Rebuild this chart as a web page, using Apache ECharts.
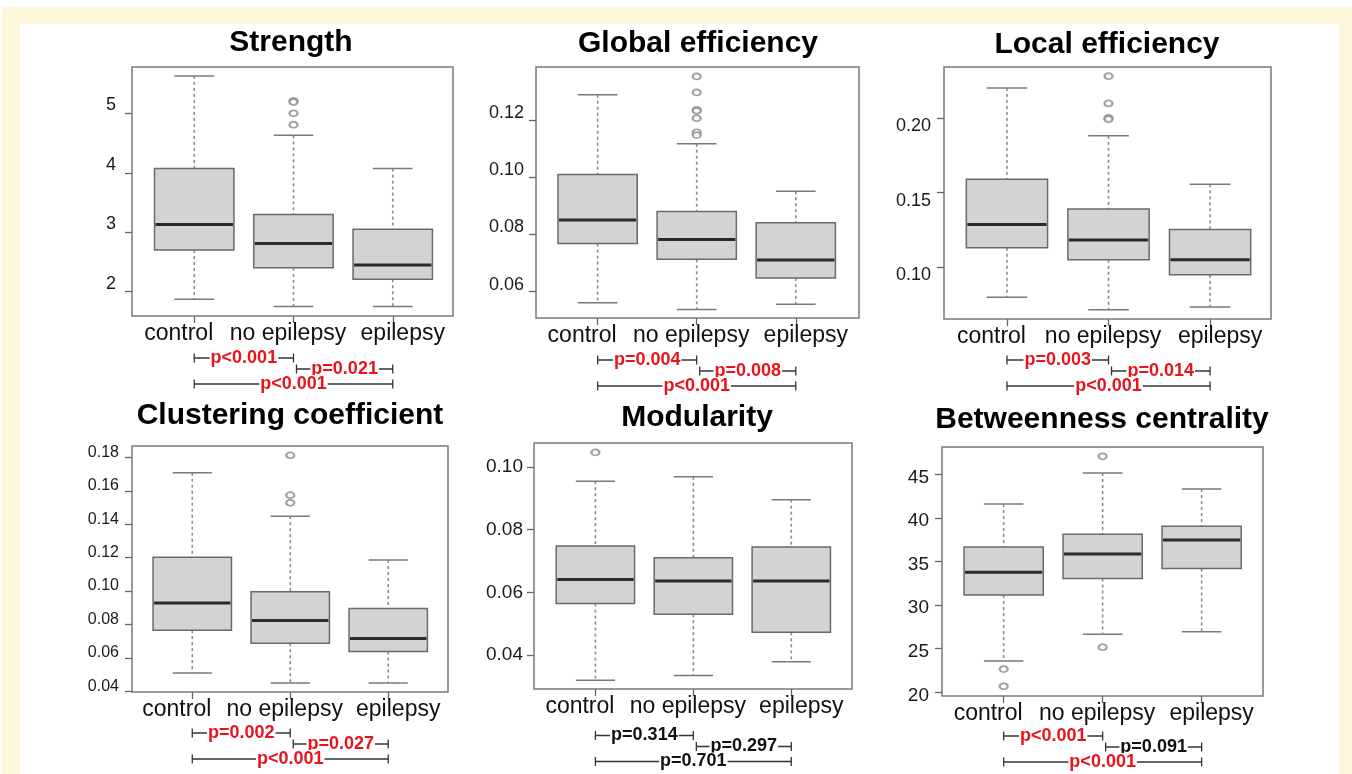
<!DOCTYPE html>
<html>
<head>
<meta charset="utf-8">
<script src="https://cdn.jsdelivr.net/npm/echarts@6/dist/echarts.min.js"></script>
<style>
  html, body { margin: 0; padding: 0; background: #ffffff; }
  #frame { position: absolute; left: 2px; top: 7px; width: 1350px; height: 767px; background: #fef7dc; }
  #inner { position: absolute; left: 20px; top: 24px; width: 1319px; height: 750px; background: #ffffff; }
  #chart { position: absolute; left: 0; top: 0; width: 1352px; height: 774px; }
</style>
</head>
<body>
<div id="frame"></div>
<div id="inner"></div>
<div id="chart"></div>
<script>
// ---------------- DATA ----------------
const groups = ['control', 'no epilepsy', 'epilepsy'];
const titles = ['Strength', 'Global efficiency', 'Local efficiency',
                'Clustering coefficient', 'Modularity', 'Betweenness centrality'];

// each box: [lower whisker, Q1, median, Q3, upper whisker]
const strengthBoxes = [[1.87, 2.70, 3.13, 4.07, 5.63], [1.75, 2.40, 2.81, 3.30, 4.63], [1.75, 2.21, 2.45, 3.05, 4.07]];
const globalBoxes = [[0.0561, 0.0768, 0.0850, 0.1009, 0.1288], [0.0538, 0.0713, 0.0782, 0.0880, 0.1117], [0.0556, 0.0648, 0.0711, 0.0841, 0.0951]];
const localBoxes = [[0.0794, 0.1128, 0.1285, 0.1590, 0.2206], [0.0711, 0.1047, 0.1180, 0.1390, 0.1883], [0.0729, 0.0946, 0.1047, 0.1251, 0.1556]];
const clusteringBoxes = [[0.0510, 0.0766, 0.0928, 0.1202, 0.1708], [0.0450, 0.0688, 0.0824, 0.0996, 0.1448], [0.0450, 0.0638, 0.0716, 0.0896, 0.1186]];
const modularityBoxes = [[0.0319, 0.0564, 0.0641, 0.0748, 0.0955], [0.0334, 0.0530, 0.0636, 0.0710, 0.0969], [0.0378, 0.0472, 0.0636, 0.0745, 0.0896]];
const betweennessBoxes = [[23.58, 31.15, 33.77, 36.67, 41.60], [26.67, 33.05, 35.87, 38.12, 45.15], [26.95, 34.20, 37.48, 39.04, 43.31]];

// outliers: [group number (1..3), value]
const strengthOutliers = [[2, 5.21], [2, 5.19], [2, 5.00], [2, 4.81]];
const globalOutliers = [[2, 0.1352], [2, 0.1296], [2, 0.1235], [2, 0.1232], [2, 0.1206], [2, 0.1157], [2, 0.1147]];
const localOutliers = [[2, 0.2285], [2, 0.2101], [2, 0.2004], [2, 0.1995]];
const clusteringOutliers = [[2, 0.1812], [2, 0.1574], [2, 0.1528]];
const modularityOutliers = [[1, 0.1047]];
const betweennessOutliers = [[1, 22.66], [1, 20.69], [2, 47.06], [2, 25.18]];

// y tick values and labels
const strengthTicks = [2, 3, 4, 5];
const strengthTickLabels = ['2', '3', '4', '5'];
const globalTicks = [0.06, 0.08, 0.10, 0.12];
const globalTickLabels = ['0.06', '0.08', '0.10', '0.12'];
const localTicks = [0.10, 0.15, 0.20];
const localTickLabels = ['0.10', '0.15', '0.20'];
const clusteringTicks = [0.04, 0.06, 0.08, 0.10, 0.12, 0.14, 0.16, 0.18];
const clusteringTickLabels = ['0.04', '0.06', '0.08', '0.10', '0.12', '0.14', '0.16', '0.18'];
const modularityTicks = [0.04, 0.06, 0.08, 0.10];
const modularityTickLabels = ['0.04', '0.06', '0.08', '0.10'];
const betweennessTicks = [20, 25, 30, 35, 40, 45];
const betweennessTickLabels = ['20', '25', '30', '35', '40', '45'];

// comparisons: control vs no epilepsy, no epilepsy vs epilepsy, control vs epilepsy
const pairs = [[1, 2], [2, 3], [1, 3]];
const strengthP = ['p<0.001', 'p=0.021', 'p<0.001'];
const globalP = ['p=0.004', 'p=0.008', 'p<0.001'];
const localP = ['p=0.003', 'p=0.014', 'p<0.001'];
const clusteringP = ['p=0.002', 'p=0.027', 'p<0.001'];
const modularityP = ['p=0.314', 'p=0.297', 'p=0.701'];
const betweennessP = ['p<0.001', 'p=0.091', 'p<0.001'];

// ---------------- LAYOUT ----------------
const panelData = [
  { boxes: strengthBoxes, out: strengthOutliers, ticks: strengthTicks, tickLabels: strengthTickLabels, p: strengthP },
  { boxes: globalBoxes, out: globalOutliers, ticks: globalTicks, tickLabels: globalTickLabels, p: globalP },
  { boxes: localBoxes, out: localOutliers, ticks: localTicks, tickLabels: localTickLabels, p: localP },
  { boxes: clusteringBoxes, out: clusteringOutliers, ticks: clusteringTicks, tickLabels: clusteringTickLabels, p: clusteringP },
  { boxes: modularityBoxes, out: modularityOutliers, ticks: modularityTicks, tickLabels: modularityTickLabels, p: modularityP },
  { boxes: betweennessBoxes, out: betweennessOutliers, ticks: betweennessTicks, tickLabels: betweennessTickLabels, p: betweennessP }
];
const layout = [
  { left: 132, top: 67, width: 321, height: 249, xMin: 0.373, xMax: 3.607, yMin: 1.59, yMax: 5.78, tx: 291, ty: 43, lShift: -8, lSize: 18, lMargin: 16, pShift: 0 },
  { left: 536, top: 67, width: 323, height: 251, xMin: 0.378, xMax: 3.638, yMin: 0.0508, yMax: 0.1385, tx: 698, ty: 44, lShift: -7, lSize: 18, lMargin: 12, pShift: 0 },
  { left: 944, top: 67, width: 327, height: 252, xMin: 0.38, xMax: 3.60, yMin: 0.0648, yMax: 0.2347, tx: 1107, ty: 45, lShift: 8, lSize: 18, lMargin: 13, pShift: -1 },
  { left: 132, top: 446, width: 316, height: 246, xMin: 0.385, xMax: 3.61, yMin: 0.0396, yMax: 0.1868, tx: 290, ty: 416, lShift: -5, lSize: 16, lMargin: 13, pShift: -1 },
  { left: 534, top: 443, width: 318, height: 246, xMin: 0.373, xMax: 3.62, yMin: 0.0291, yMax: 0.1077, tx: 697, ty: 418, lShift: 0, lSize: 19, lMargin: 11, pShift: 4.5 },
  { left: 942, top: 447, width: 321, height: 249, xMin: 0.377, xMax: 3.62, yMin: 19.58, yMax: 48.13, tx: 1102, ty: 420, lShift: 3, lSize: 19, lMargin: 13, pShift: -2 }
];
const rowOffsets = [42, 53, 68];
const FONT = 'Liberation Sans, Arial, Helvetica, sans-serif';

// ---------------- RENDERERS ----------------
function boxRenderer(params, api) {
  const x = api.value(0);
  const lo = api.coord([x, api.value(1)]);
  const q1 = api.coord([x, api.value(2)]);
  const md = api.coord([x, api.value(3)]);
  const q3 = api.coord([x, api.value(4)]);
  const hi = api.coord([x, api.value(5)]);
  const bw = api.size([0.8, 0])[0];
  const cw = bw / 2;
  const cx = lo[0];
  const dash = { stroke: '#8c8c8c', lineWidth: 1.6, lineDash: [3, 3] };
  const cap = { stroke: '#7a7a7a', lineWidth: 1.5 };
  return {
    type: 'group',
    children: [
      { type: 'line', shape: { x1: cx, y1: hi[1], x2: cx, y2: q3[1] }, style: dash },
      { type: 'line', shape: { x1: cx, y1: q1[1], x2: cx, y2: lo[1] }, style: dash },
      { type: 'line', shape: { x1: cx - cw / 2, y1: hi[1], x2: cx + cw / 2, y2: hi[1] }, style: cap },
      { type: 'line', shape: { x1: cx - cw / 2, y1: lo[1], x2: cx + cw / 2, y2: lo[1] }, style: cap },
      { type: 'rect', shape: { x: cx - bw / 2, y: q3[1], width: bw, height: q1[1] - q3[1] },
        style: { fill: '#d3d3d3', stroke: '#6a6a6a', lineWidth: 1.5 } },
      { type: 'line', shape: { x1: cx - bw / 2 + 1, y1: md[1], x2: cx + bw / 2 - 1, y2: md[1] },
        style: { stroke: '#2a2a2a', lineWidth: 3 } }
    ]
  };
}

function makeBracketRenderer(pi) {
  return function (params, api) {
    const i = params.dataIndex;
    const label = panelData[pi].p[i];
    const val = parseFloat(label.slice(2));
    const significant = label.charAt(1) === '<' || val < 0.05;
    const cs = params.coordSys;
    const base = cs.y + cs.height;
    const y = base + rowOffsets[i] + layout[pi].pShift;
    const x1 = api.coord([api.value(0), layout[pi].yMin])[0] + (i === 1 ? 3 : 0);
    const x2 = api.coord([api.value(1), layout[pi].yMin])[0];
    const ls = { stroke: '#333', lineWidth: 1.3 };
    return {
      type: 'group',
      children: [
        { type: 'line', shape: { x1: x1, y1: y, x2: x2, y2: y }, style: ls },
        { type: 'line', shape: { x1: x1, y1: y - 4.5, x2: x1, y2: y + 4.5 }, style: ls },
        { type: 'line', shape: { x1: x2, y1: y - 4.5, x2: x2, y2: y + 4.5 }, style: ls },
        { type: 'text', x: (x1 + x2) / 2, y: y,
          style: { text: label, fill: significant ? '#e8141c' : '#111', font: 'bold 18px ' + FONT,
                   align: 'center', verticalAlign: 'middle', backgroundColor: '#ffffff', padding: [0, 1] } }
      ]
    };
  };
}

// ---------------- OPTION ----------------
const grid = [], xAxis = [], yAxis = [], series = [], graphic = [];
layout.forEach(function (L, pi) {
  const D = panelData[pi];
  grid.push({ left: L.left, top: L.top, width: L.width, height: L.height, show: true,
              borderColor: '#7a7a7a', borderWidth: 1.5, backgroundColor: 'transparent' });
  xAxis.push({
    gridIndex: pi, type: 'value', min: L.xMin, max: L.xMax,
    axisLine: { show: false, onZero: false },
    splitLine: { show: false },
    axisTick: { show: true, length: 7, customValues: [1, 2, 3], lineStyle: { color: '#666', width: 1.3 } },
    axisLabel: {
      customValues: [1, 2, 3], margin: 6,
      formatter: function (v) { const k = Math.round(v) - 1; return '{g' + k + '|' + groups[k] + '}'; },
      rich: {
        g0: { fontSize: 23, fontFamily: FONT, color: '#111', padding: [0, 31, 0, 0] },
        g1: { fontSize: 23, fontFamily: FONT, color: '#111', padding: [0, 11, 0, 0] },
        g2: { fontSize: 23, fontFamily: FONT, color: '#111', padding: [0, 0, 0, 20] }
      }
    }
  });
  const pad = L.lShift >= 0 ? [2 * L.lShift, 0, 0, 0] : [0, 0, -2 * L.lShift, 0];
  yAxis.push({
    gridIndex: pi, type: 'value', min: L.yMin, max: L.yMax,
    axisLine: { show: false, onZero: false },
    splitLine: { show: false },
    axisTick: { show: true, length: 7, customValues: D.ticks, lineStyle: { color: '#666', width: 1.3 } },
    axisLabel: {
      customValues: D.ticks, margin: L.lMargin,
      formatter: function (v) {
        let best = 0;
        D.ticks.forEach(function (t, k) { if (Math.abs(t - v) < Math.abs(D.ticks[best] - v)) best = k; });
        return '{t|' + D.tickLabels[best] + '}';
      },
      rich: { t: { fontSize: L.lSize, fontFamily: FONT, color: '#1a1a1a', padding: pad } }
    }
  });
  series.push({
    type: 'custom', xAxisIndex: pi, yAxisIndex: pi, z: 2,
    renderItem: boxRenderer,
    encode: { x: 0, y: [1, 2, 3, 4, 5] },
    data: D.boxes.map(function (b, k) { return [k + 1].concat(b); })
  });
  series.push({
    type: 'scatter', xAxisIndex: pi, yAxisIndex: pi, z: 3,
    symbol: 'emptyCircle', symbolSize: [8, 6],
    itemStyle: { color: '#8a8a8a', borderColor: '#8a8a8a', borderWidth: 1.5 },
    data: D.out
  });
  series.push({
    type: 'custom', xAxisIndex: pi, yAxisIndex: pi, z: 4, clip: false,
    renderItem: makeBracketRenderer(pi),
    encode: { x: [0, 1] },
    data: pairs.map(function (p) { return [p[0], p[1]]; })
  });
  graphic.push({
    type: 'text', x: L.tx, y: L.ty,
    style: { text: titles[pi], font: 'bold 30px ' + FONT, fill: '#000', align: 'center', verticalAlign: 'middle' }
  });
});

const chart = echarts.init(document.getElementById('chart'), null, { renderer: 'canvas' });
chart.setOption({
  animation: false,
  backgroundColor: 'transparent',
  grid: grid, xAxis: xAxis, yAxis: yAxis, series: series, graphic: graphic
});
</script>
</body>
</html>
